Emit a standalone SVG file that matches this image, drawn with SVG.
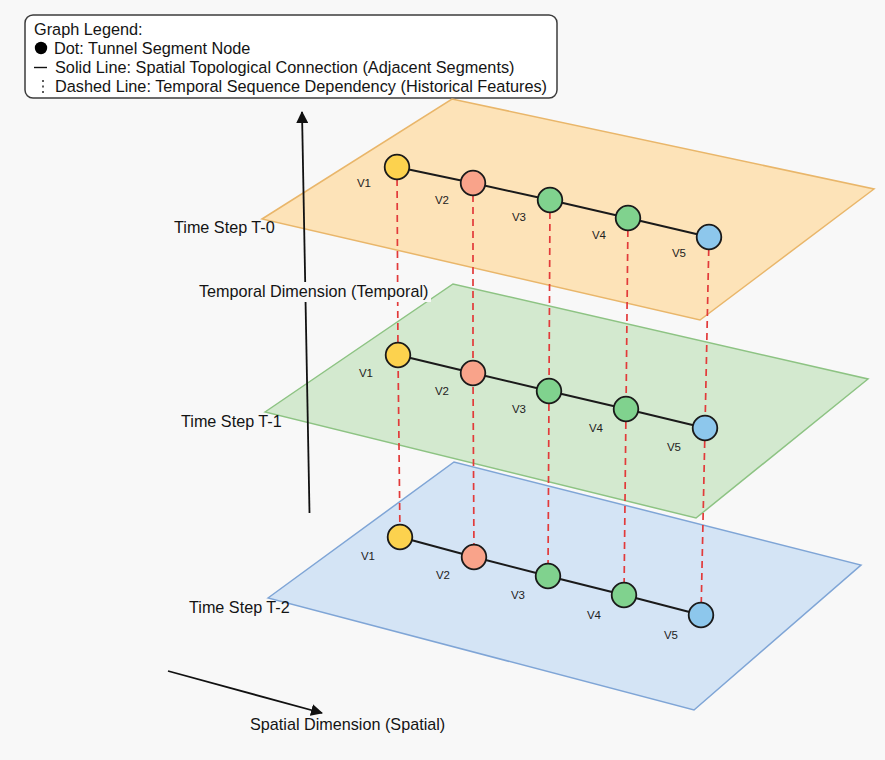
<svg xmlns="http://www.w3.org/2000/svg" width="885" height="760" viewBox="0 0 885 760">
  <defs>
    <style>
      .bg { fill: #f8f8f8; }
      .txt { font-family: "Liberation Sans", Arial, Helvetica, sans-serif; fill: #141414; }
      .big { font-size: 16.2px; }
      .legend-txt { font-size: 16.3px; }
      .lbl { font-size: 11.5px; fill: #222; text-anchor: middle; }
      .plane-t0 { fill: #fde3b8; stroke: #e9b66a; stroke-width: 1.5; }
      .plane-t1 { fill: #d3e9cf; stroke: #8dc383; stroke-width: 1.5; }
      .plane-t2 { fill: #d4e4f5; stroke: #7fa5d6; stroke-width: 1.5; }
      .edge { stroke: #1a1a1a; stroke-width: 1.9; fill: none; }
      .temporal { stroke: #e23a3a; stroke-width: 1.7; stroke-dasharray: 7 5; fill: none; }
      .axis { stroke: #111; stroke-width: 1.8; fill: none; }
      .node { stroke: #1a1a1a; stroke-width: 1.8; }
      .c-yellow { fill: #fcd24e; }
      .c-salmon { fill: #f9a38a; }
      .c-green { fill: #80d28e; }
      .c-blue { fill: #8dc7ec; }
    </style>
    <marker id="arrowhead" viewBox="0 0 12 12" refX="11" refY="6" markerWidth="12" markerHeight="12" markerUnits="userSpaceOnUse" orient="auto">
      <path d="M0,0 L12,6 L0,12 Z" fill="#111"/>
    </marker>
  </defs>

  <rect class="bg" x="0" y="0" width="885" height="760"/>

  <!-- legend -->
  <g id="legend">
    <rect x="25" y="15" width="532" height="83" rx="8" ry="8" fill="#ffffff" stroke="#3c3c3c" stroke-width="1.5"/>
    <text class="txt legend-txt" x="34" y="35">Graph Legend:</text>
    <circle cx="41" cy="48" r="6.2" fill="#000"/>
    <text class="txt legend-txt" x="54" y="54">Dot: Tunnel Segment Node</text>
    <line x1="34" y1="67.5" x2="47" y2="67.5" stroke="#111" stroke-width="1.4"/>
    <text class="txt legend-txt" x="55" y="73">Solid Line: Spatial Topological Connection (Adjacent Segments)</text>
    <line x1="43" y1="80" x2="43" y2="93" stroke="#333" stroke-width="1.6" stroke-dasharray="2 3.5"/>
    <text class="txt legend-txt" x="55" y="92">Dashed Line: Temporal Sequence Dependency (Historical Features)</text>
  </g>

  <!-- time-step planes -->
  <g id="planes">
    <polygon id="plane-t0" class="plane-t0" points="262,219 452,99 874,189 700,320"/>
    <polygon id="plane-t1" class="plane-t1" points="265,412 453,284 868,379 696,518"/>
    <polygon id="plane-t2" class="plane-t2" points="268,598 454,462 861,565 694,710"/>
  </g>

  <!-- axes -->
  <g id="axes">
    <line class="axis" x1="309.5" y1="513" x2="302" y2="112" marker-end="url(#arrowhead)"/>
    <line class="axis" x1="168" y1="671" x2="322" y2="713" marker-end="url(#arrowhead)"/>
  </g>

  <!-- connectors -->
  <g id="connectors">
    <!-- temporal dependencies between consecutive steps -->
    <path class="temporal" d="M397,167 L398,355 L400,537"/>
    <path class="temporal" d="M473,183 L473,373 L474,557"/>
    <path class="temporal" d="M550,200 L549,391 L548,576"/>
    <path class="temporal" d="M628,218 L626,409 L624,595"/>
    <path class="temporal" d="M709,237 L705,428 L701,615"/>
    <!-- spatial adjacency, T-0 -->
    <polyline class="edge" points="397,167 473,183 550,200 628,218 709,237"/>
    <!-- spatial adjacency, T-1 -->
    <polyline class="edge" points="398,355 473,373 549,391 626,409 705,428"/>
    <!-- spatial adjacency, T-2 -->
    <polyline class="edge" points="400,537 474,557 548,576 624,595 701,615"/>
  </g>

  <!-- nodes: T-0 -->
  <g id="t0-v1"><circle class="node c-yellow" cx="397" cy="167" r="12.3"/><text class="txt lbl" x="364" y="187">V1</text></g>
  <g id="t0-v2"><circle class="node c-salmon" cx="473" cy="183" r="12.3"/><text class="txt lbl" x="442" y="204">V2</text></g>
  <g id="t0-v3"><circle class="node c-green" cx="550" cy="200" r="12.3"/><text class="txt lbl" x="519" y="221">V3</text></g>
  <g id="t0-v4"><circle class="node c-green" cx="628" cy="218" r="12.3"/><text class="txt lbl" x="599" y="239">V4</text></g>
  <g id="t0-v5"><circle class="node c-blue" cx="709" cy="237" r="12.3"/><text class="txt lbl" x="679" y="257">V5</text></g>

  <!-- nodes: T-1 -->
  <g id="t1-v1"><circle class="node c-yellow" cx="398" cy="355" r="12.3"/><text class="txt lbl" x="366" y="377">V1</text></g>
  <g id="t1-v2"><circle class="node c-salmon" cx="473" cy="373" r="12.3"/><text class="txt lbl" x="442" y="395">V2</text></g>
  <g id="t1-v3"><circle class="node c-green" cx="549" cy="391" r="12.3"/><text class="txt lbl" x="519" y="413">V3</text></g>
  <g id="t1-v4"><circle class="node c-green" cx="626" cy="409" r="12.3"/><text class="txt lbl" x="596" y="432">V4</text></g>
  <g id="t1-v5"><circle class="node c-blue" cx="705" cy="428" r="12.3"/><text class="txt lbl" x="674" y="451">V5</text></g>

  <!-- nodes: T-2 -->
  <g id="t2-v1"><circle class="node c-yellow" cx="400" cy="537" r="12.3"/><text class="txt lbl" x="368" y="560">V1</text></g>
  <g id="t2-v2"><circle class="node c-salmon" cx="474" cy="557" r="12.3"/><text class="txt lbl" x="443" y="579">V2</text></g>
  <g id="t2-v3"><circle class="node c-green" cx="548" cy="576" r="12.3"/><text class="txt lbl" x="518" y="599">V3</text></g>
  <g id="t2-v4"><circle class="node c-green" cx="624" cy="595" r="12.3"/><text class="txt lbl" x="594" y="619">V4</text></g>
  <g id="t2-v5"><circle class="node c-blue" cx="701" cy="615" r="12.3"/><text class="txt lbl" x="671" y="639">V5</text></g>

  <!-- step and axis captions -->
  <g id="captions">
    <text class="txt big" x="174" y="233">Time Step T-0</text>
    <text class="txt big" x="181" y="427">Time Step T-1</text>
    <text class="txt big" x="189" y="613">Time Step T-2</text>
    <rect class="bg" x="198" y="282" width="233" height="20"/>
    <text class="txt big" x="199" y="297">Temporal Dimension (Temporal)</text>
    <text class="txt big" x="250" y="730">Spatial Dimension (Spatial)</text>
  </g>
</svg>
